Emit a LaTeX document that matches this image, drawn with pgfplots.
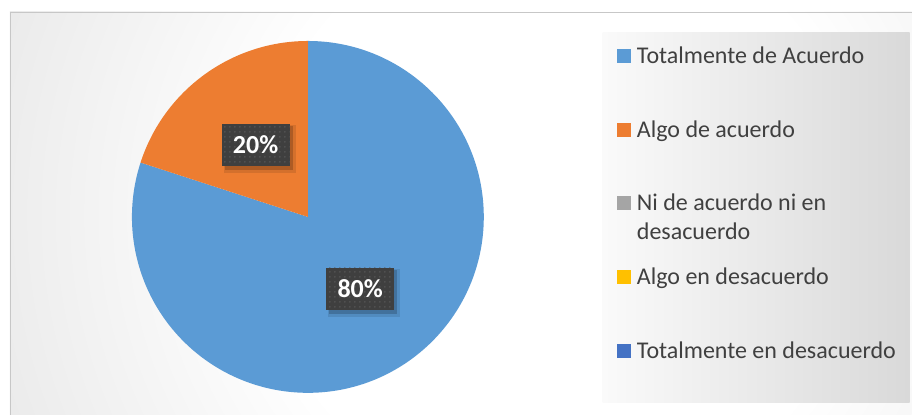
\documentclass[border=0pt]{standalone}
\usepackage{fontspec}
\setmainfont{Carlito}
\usepackage{pgfplots}
\pgfplotsset{compat=1.18}
\usepackage{pgfplotstable}
\usetikzlibrary{patterns.meta}

\definecolor{slice0}{HTML}{5B9BD5}
\definecolor{slice1}{HTML}{ED7D31}
\definecolor{slice2}{HTML}{A5A5A5}
\definecolor{slice3}{HTML}{FFC000}
\definecolor{slice4}{HTML}{4472C4}
\definecolor{txt}{HTML}{404040}
\definecolor{lblbox}{HTML}{3F3F3F}
\definecolor{lbldot}{HTML}{575757}
\definecolor{bgedge}{RGB}{189,189,189}
\definecolor{legleft}{RGB}{250,250,250}
\definecolor{legright}{RGB}{217,217,217}

\pgfdeclareradialshading{bgshade}{\pgfpoint{0bp}{0bp}}{color(0bp)=(white); color(12bp)=(white); color(50bp)=(bgedge)}

\pgfplotstableread[col sep=comma]{
name,value
Totalmente de Acuerdo,80
Algo de acuerdo,20
Ni de acuerdo ni en desacuerdo,0
Algo en desacuerdo,0
Totalmente en desacuerdo,0
}\piedata

\newcommand{\legfont}{\fontsize{24bp}{29bp}\selectfont}

\begin{document}
\begin{tikzpicture}
\begin{axis}[
  scale only axis, width=912bp, height=417bp,
  xmin=0, xmax=912, ymin=0, ymax=417, y dir=reverse,
  hide axis, clip=false,
]
\addplot[draw=none, forget plot] coordinates {(0,0) (912,417)};
\pgfplotsextra{
  % background
  \fill[white] (axis cs:0,0) rectangle (axis cs:912,417);
  \begin{scope}
    \clip (axis cs:10,12) rectangle (axis cs:912,415);
    \shade[shading=bgshade] (axis cs:560,215) circle[radius=620bp];
  \end{scope}
  \draw[black!22, line width=0.8bp] (axis cs:10,415) -- (axis cs:10,12) -- (axis cs:912,12);
  % legend box
  \shade[left color=legleft, right color=legright] (axis cs:603,33) rectangle (axis cs:910,403);
  % pie slices
  \pgfplotstablegetrowsof{\piedata}
  \pgfmathtruncatemacro\lastrow{\pgfplotsretval-1}
  \gdef\cum{0}
  \foreach \i in {0,...,\lastrow}{
    \pgfplotstablegetelem{\i}{value}\of\piedata
    \pgfmathsetmacro\v{\pgfplotsretval}
    \pgfmathsetmacro\aa{90-3.6*\cum}
    \pgfmathsetmacro\ab{90-3.6*(\cum+\v)}
    \ifdim\v pt>0pt
      \fill[slice\i] (axis cs:308,217) -- ++(\aa:176bp) arc[start angle=\aa, end angle=\ab, radius=176bp] -- cycle;
    \fi
    \pgfmathsetmacro\newcum{\cum+\v}
    \xdef\cum{\newcum}
  }
  % data labels
  \gdef\cum{0}
  \foreach \i in {0,...,\lastrow}{
    \pgfplotstablegetelem{\i}{value}\of\piedata
    \pgfmathsetmacro\v{\pgfplotsretval}
    \pgfmathsetmacro\am{90-3.6*(\cum+\v/2)}
    \pgfmathtruncatemacro\vi{round(\v)}
    \ifdim\v pt>0pt
      \path (axis cs:308,217) ++(\am:89bp) ++(4bp,-4bp) node[fill=black, opacity=0.10, minimum width=72bp, minimum height=48bp, inner sep=0pt] {};
      \path (axis cs:308,217) ++(\am:89bp) ++(3bp,-3bp) node[fill=black, opacity=0.18, minimum width=68bp, minimum height=44bp, inner sep=0pt] {};
      \path (axis cs:308,217) ++(\am:89bp) node[fill=lblbox, postaction={pattern={Dots[distance=5bp,radius=0.9bp]}, pattern color=lbldot}, minimum width=68bp, minimum height=42bp, inner sep=0pt] {};
      \path (axis cs:308,217) ++(\am:89bp) node[text=white, inner sep=0pt, font=\bfseries\fontsize{26bp}{30bp}\selectfont] {\vi\%};
    \fi
    \pgfmathsetmacro\newcum{\cum+\v}
    \xdef\cum{\newcum}
  }
  % legend
  \fill[slice0] (axis cs:617,49.5) rectangle (axis cs:631,63.3);
  \node[anchor=base west, inner sep=0pt, text=txt, font=\legfont] at (axis cs:637,63.3) {Totalmente de Acuerdo};
  \fill[slice1] (axis cs:617,123.5) rectangle (axis cs:631,137.3);
  \node[anchor=base west, inner sep=0pt, text=txt, font=\legfont] at (axis cs:637,137.3) {Algo de acuerdo};
  \fill[slice2] (axis cs:617,196.5) rectangle (axis cs:631,210.3);
  \node[anchor=base west, inner sep=0pt, text=txt, font=\legfont] at (axis cs:637,210.3) {Ni de acuerdo ni en};
  \node[anchor=base west, inner sep=0pt, text=txt, font=\legfont] at (axis cs:637,239.3) {desacuerdo};
  \fill[slice3] (axis cs:617,270.5) rectangle (axis cs:631,284.3);
  \node[anchor=base west, inner sep=0pt, text=txt, font=\legfont] at (axis cs:637,284.3) {Algo en desacuerdo};
  \fill[slice4] (axis cs:617,344.5) rectangle (axis cs:631,358.3);
  \node[anchor=base west, inner sep=0pt, text=txt, font=\legfont] at (axis cs:637,358.3) {Totalmente en desacuerdo};
}
\end{axis}
\end{tikzpicture}
\end{document}
